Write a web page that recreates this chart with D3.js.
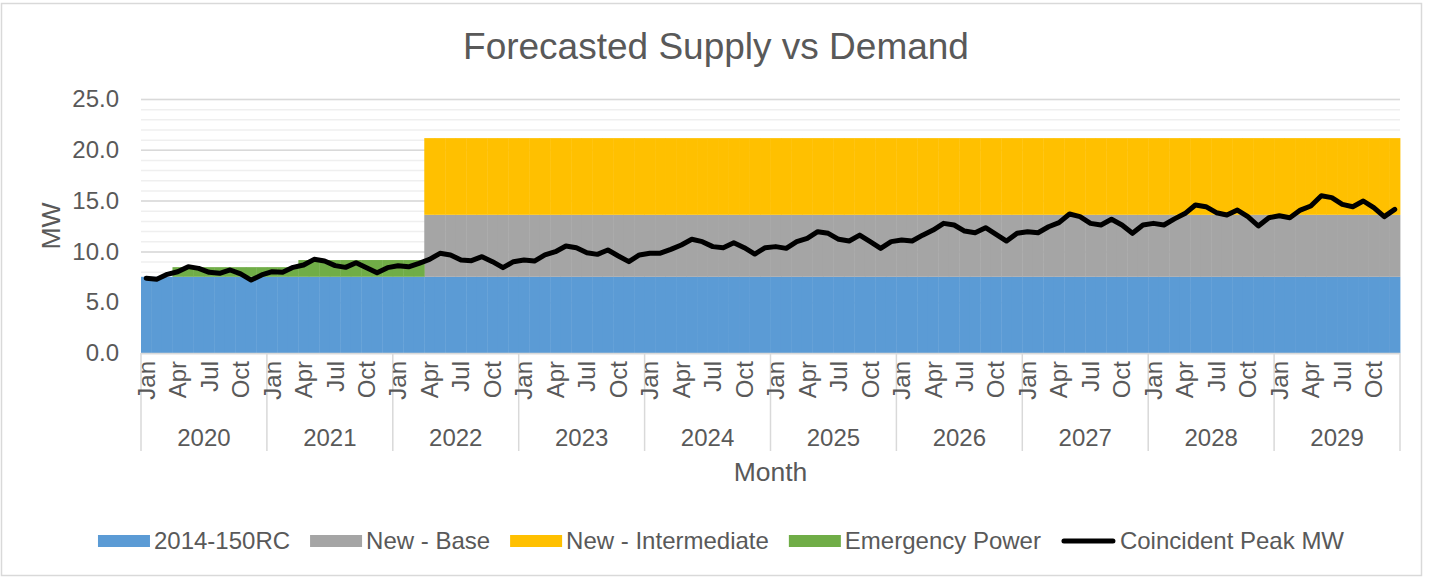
<!DOCTYPE html>
<html>
<head>
<meta charset="utf-8">
<script src="https://cdn.jsdelivr.net/npm/d3@7"></script>
<style>
  body { margin: 0; background: #fff; }
  text { font-family: "Liberation Sans", Arial, sans-serif; fill: #595959; }
</style>
</head>
<body>
<script>
// chart values
var years = ["2020", "2021", "2022", "2023", "2024", "2025", "2026", "2027", "2028", "2029"];
var monthNames = ["Jan", "Feb", "Mar", "Apr", "May", "Jun", "Jul", "Aug", "Sep", "Oct", "Nov", "Dec"];
var shownMonths = ["Jan", "Apr", "Jul", "Oct"];
var yTicks = [0, 5, 10, 15, 20, 25];

// supply, MW per month (2020 Jan .. 2029 Dec)
var base2014 = [
  7.5, 7.5, 7.5, 7.5, 7.5, 7.5, 7.5, 7.5, 7.5, 7.5, 7.5, 7.5,
  7.5, 7.5, 7.5, 7.5, 7.5, 7.5, 7.5, 7.5, 7.5, 7.5, 7.5, 7.5,
  7.5, 7.5, 7.5, 7.5, 7.5, 7.5, 7.5, 7.5, 7.5, 7.5, 7.5, 7.5,
  7.5, 7.5, 7.5, 7.5, 7.5, 7.5, 7.5, 7.5, 7.5, 7.5, 7.5, 7.5,
  7.5, 7.5, 7.5, 7.5, 7.5, 7.5, 7.5, 7.5, 7.5, 7.5, 7.5, 7.5,
  7.5, 7.5, 7.5, 7.5, 7.5, 7.5, 7.5, 7.5, 7.5, 7.5, 7.5, 7.5,
  7.5, 7.5, 7.5, 7.5, 7.5, 7.5, 7.5, 7.5, 7.5, 7.5, 7.5, 7.5,
  7.5, 7.5, 7.5, 7.5, 7.5, 7.5, 7.5, 7.5, 7.5, 7.5, 7.5, 7.5,
  7.5, 7.5, 7.5, 7.5, 7.5, 7.5, 7.5, 7.5, 7.5, 7.5, 7.5, 7.5,
  7.5, 7.5, 7.5, 7.5, 7.5, 7.5, 7.5, 7.5, 7.5, 7.5, 7.5, 7.5
];
var newBase = [
  0, 0, 0, 0, 0, 0, 0, 0, 0, 0, 0, 0,
  0, 0, 0, 0, 0, 0, 0, 0, 0, 0, 0, 0,
  0, 0, 0, 6.1, 6.1, 6.1, 6.1, 6.1, 6.1, 6.1, 6.1, 6.1,
  6.1, 6.1, 6.1, 6.1, 6.1, 6.1, 6.1, 6.1, 6.1, 6.1, 6.1, 6.1,
  6.1, 6.1, 6.1, 6.1, 6.1, 6.1, 6.1, 6.1, 6.1, 6.1, 6.1, 6.1,
  6.1, 6.1, 6.1, 6.1, 6.1, 6.1, 6.1, 6.1, 6.1, 6.1, 6.1, 6.1,
  6.1, 6.1, 6.1, 6.1, 6.1, 6.1, 6.1, 6.1, 6.1, 6.1, 6.1, 6.1,
  6.1, 6.1, 6.1, 6.1, 6.1, 6.1, 6.1, 6.1, 6.1, 6.1, 6.1, 6.1,
  6.1, 6.1, 6.1, 6.1, 6.1, 6.1, 6.1, 6.1, 6.1, 6.1, 6.1, 6.1,
  6.1, 6.1, 6.1, 6.1, 6.1, 6.1, 6.1, 6.1, 6.1, 6.1, 6.1, 6.1
];
var newIntermediate = [
  0, 0, 0, 0, 0, 0, 0, 0, 0, 0, 0, 0,
  0, 0, 0, 0, 0, 0, 0, 0, 0, 0, 0, 0,
  0, 0, 0, 7.55, 7.55, 7.55, 7.55, 7.55, 7.55, 7.55, 7.55, 7.55,
  7.55, 7.55, 7.55, 7.55, 7.55, 7.55, 7.55, 7.55, 7.55, 7.55, 7.55, 7.55,
  7.55, 7.55, 7.55, 7.55, 7.55, 7.55, 7.55, 7.55, 7.55, 7.55, 7.55, 7.55,
  7.55, 7.55, 7.55, 7.55, 7.55, 7.55, 7.55, 7.55, 7.55, 7.55, 7.55, 7.55,
  7.55, 7.55, 7.55, 7.55, 7.55, 7.55, 7.55, 7.55, 7.55, 7.55, 7.55, 7.55,
  7.55, 7.55, 7.55, 7.55, 7.55, 7.55, 7.55, 7.55, 7.55, 7.55, 7.55, 7.55,
  7.55, 7.55, 7.55, 7.55, 7.55, 7.55, 7.55, 7.55, 7.55, 7.55, 7.55, 7.55,
  7.55, 7.55, 7.55, 7.55, 7.55, 7.55, 7.55, 7.55, 7.55, 7.55, 7.55, 7.55
];
var emergency = [
  0, 0, 0, 0.95, 0.95, 0.95, 0.95, 0.95, 0.95, 0.95, 0.95, 0.95,
  0.95, 0.95, 0.95, 1.65, 1.65, 1.65, 1.65, 1.65, 1.65, 1.65, 1.65, 1.65,
  1.65, 1.65, 1.65, 0, 0, 0, 0, 0, 0, 0, 0, 0,
  0, 0, 0, 0, 0, 0, 0, 0, 0, 0, 0, 0,
  0, 0, 0, 0, 0, 0, 0, 0, 0, 0, 0, 0,
  0, 0, 0, 0, 0, 0, 0, 0, 0, 0, 0, 0,
  0, 0, 0, 0, 0, 0, 0, 0, 0, 0, 0, 0,
  0, 0, 0, 0, 0, 0, 0, 0, 0, 0, 0, 0,
  0, 0, 0, 0, 0, 0, 0, 0, 0, 0, 0, 0,
  0, 0, 0, 0, 0, 0, 0, 0, 0, 0, 0, 0
];

// demand
var peakMW = [
  7.35, 7.25, 7.74, 8.0, 8.5, 8.33, 7.94, 7.84, 8.17, 7.78, 7.18, 7.68,
  8.0, 7.94, 8.43, 8.66, 9.22, 9.05, 8.6, 8.43, 8.89, 8.4, 7.9, 8.4,
  8.58, 8.48, 8.83, 9.22, 9.81, 9.65, 9.15, 9.09, 9.48, 8.99, 8.4, 8.99,
  9.15, 9.05, 9.65, 9.97, 10.53, 10.36, 9.87, 9.71, 10.14, 9.55, 8.99, 9.65,
  9.81, 9.83, 10.2, 10.63, 11.19, 10.96, 10.47, 10.37, 10.86, 10.37, 9.74, 10.37,
  10.47, 10.3, 10.96, 11.29, 11.94, 11.78, 11.19, 11.02, 11.6, 10.96, 10.3, 10.96,
  11.12, 11.02, 11.6, 12.1, 12.76, 12.6, 12.0, 11.84, 12.33, 11.68, 11.02, 11.78,
  11.94, 11.84, 12.43, 12.83, 13.68, 13.42, 12.76, 12.6, 13.16, 12.6, 11.78, 12.6,
  12.76, 12.6, 13.2, 13.72, 14.57, 14.4, 13.81, 13.58, 14.07, 13.42, 12.5, 13.32,
  13.51, 13.32, 14.07, 14.47, 15.48, 15.29, 14.63, 14.4, 14.96, 14.3, 13.42, 14.14
];

var seriesNames = ["2014-150RC", "New - Base", "New - Intermediate", "Emergency Power"];
var seriesColors = ["#5b9bd5", "#a5a5a5", "#ffc000", "#70ad47"];
var lineName = "Coincident Peak MW";

// layout
var w = 1429;
var h = 578;
var plotLeft = 141;
var plotRight = 1400;
var plotTop = 99;
var plotBottom = 353;

// build the month table
var months = [];
years.forEach(function(y) {
  monthNames.forEach(function(m) {
    months.push({ year: y, month: m, key: y + "-" + m });
  });
});
var table = months.map(function(d, i) {
  var row = { key: d.key };
  row[seriesNames[0]] = base2014[i];
  row[seriesNames[1]] = newBase[i];
  row[seriesNames[2]] = newIntermediate[i];
  row[seriesNames[3]] = emergency[i];
  row.peak = peakMW[i];
  return row;
});

var xScale = d3.scaleBand()
               .domain(months.map(function(d) { return d.key; }))
               .range([plotLeft, plotRight])
               .padding(0);

var yScale = d3.scaleLinear()
               .domain([0, 25])
               .range([plotBottom, plotTop]);

var svg = d3.select("body")
            .append("svg")
            .attr("width", w)
            .attr("height", h);

// outer chart border
svg.append("rect")
   .attr("x", 1.5).attr("y", 3.5)
   .attr("width", 1420).attr("height", 572)
   .attr("fill", "#fff")
   .attr("stroke", "#d9d9d9")
   .attr("stroke-width", 1.5);

// minor gridlines
svg.append("g")
   .attr("transform", "translate(" + plotLeft + ",0)")
   .call(d3.axisLeft(yScale).tickValues(d3.range(0, 26, 1)).tickSize(-(plotRight - plotLeft)).tickFormat(""))
   .call(function(g) {
     g.select(".domain").remove();
     g.selectAll("line").attr("stroke", "#efefef").attr("stroke-width", 1.5);
   });

// major gridlines + tick labels
svg.append("g")
   .attr("transform", "translate(" + plotLeft + ",0)")
   .call(d3.axisLeft(yScale).tickValues(yTicks).tickSize(-(plotRight - plotLeft)).tickPadding(22).tickFormat(d3.format(".1f")))
   .call(function(g) {
     g.select(".domain").remove();
     g.selectAll("line").attr("stroke", "#d9d9d9").attr("stroke-width", 1.5);
     g.selectAll("text").attr("font-size", "24px").attr("fill", "#595959")
      .style("font-family", "'Liberation Sans', Arial, sans-serif");
   });

// stacked columns
var stack = d3.stack().keys(seriesNames);
var layers = stack(table);

svg.append("g")
   .selectAll("g")
   .data(layers)
   .enter()
   .append("g")
   .attr("fill", function(d, i) { return seriesColors[i]; })
   .selectAll("rect")
   .data(function(d) { return d.filter(function(p) { return p[1] > p[0]; }); })
   .enter()
   .append("rect")
   .attr("x", function(d) { return xScale(d.data.key); })
   .attr("width", xScale.bandwidth() + 0.4)
   .attr("y", function(d) { return yScale(d[1]); })
   .attr("height", function(d) { return yScale(d[0]) - yScale(d[1]); });

// x axis line
svg.append("line")
   .attr("x1", plotLeft).attr("x2", plotRight)
   .attr("y1", plotBottom + 0.5).attr("y2", plotBottom + 0.5)
   .attr("stroke", "#d9d9d9").attr("stroke-width", 1.5);

// year separators
var bounds = years.map(function(y) { return xScale(y + "-Jan"); }).concat([plotRight]);
svg.append("g")
   .selectAll("line")
   .data(bounds)
   .enter()
   .append("line")
   .attr("x1", function(d) { return d; })
   .attr("x2", function(d) { return d; })
   .attr("y1", plotBottom)
   .attr("y2", 451)
   .attr("stroke", "#d9d9d9")
   .attr("stroke-width", 1.5);

// month labels
svg.append("g")
   .selectAll("text")
   .data(months.filter(function(d) { return shownMonths.indexOf(d.month) >= 0; }))
   .enter()
   .append("text")
   .attr("transform", function(d) {
     return "translate(" + (xScale(d.key) + xScale.bandwidth() / 2) + "," + (plotBottom + 8) + ") rotate(-90)";
   })
   .attr("dy", "0.35em")
   .attr("text-anchor", "end")
   .attr("font-size", "24px")
   .text(function(d) { return d.month; });

// year labels
svg.append("g")
   .selectAll("text")
   .data(years)
   .enter()
   .append("text")
   .attr("x", function(d, i) { return (bounds[i] + bounds[i + 1]) / 2; })
   .attr("y", 446)
   .attr("text-anchor", "middle")
   .attr("font-size", "24px")
   .text(function(d) { return d; });

// demand line
var line = d3.line()
             .x(function(d) { return xScale(d.key) + xScale.bandwidth() / 2; })
             .y(function(d) { return yScale(d.peak); });

svg.append("path")
   .datum(table)
   .attr("d", line)
   .attr("fill", "none")
   .attr("stroke", "#000")
   .attr("stroke-width", 5)
   .attr("stroke-linejoin", "round")
   .attr("stroke-linecap", "round");

// titles
svg.append("text")
   .attr("x", 716).attr("y", 59)
   .attr("text-anchor", "middle")
   .attr("font-size", "37px")
   .text("Forecasted Supply vs Demand");

svg.append("text")
   .attr("x", (plotLeft + plotRight) / 2).attr("y", 481)
   .attr("text-anchor", "middle")
   .attr("font-size", "26.5px")
   .text("Month");

svg.append("text")
   .attr("transform", "translate(60," + ((plotTop + plotBottom) / 2) + ") rotate(-90)")
   .attr("text-anchor", "middle")
   .attr("font-size", "26.5px")
   .text("MW");

// legend
var legendItems = seriesNames.map(function(n, i) { return { name: n, color: seriesColors[i], type: "box" }; })
                             .concat([{ name: lineName, color: "#000", type: "line" }]);
var legend = svg.append("g");
var cursor = 0;
legendItems.forEach(function(item) {
  var g = legend.append("g").attr("transform", "translate(" + cursor + ",0)");
  var sw = item.type == "box" ? 52 : 55;
  if (item.type == "box") {
    g.append("rect").attr("x", 0).attr("y", -6).attr("width", sw).attr("height", 12).attr("fill", item.color);
  } else {
    g.append("line").attr("x1", 3).attr("x2", sw - 3).attr("y1", 0).attr("y2", 0)
     .attr("stroke", item.color).attr("stroke-width", 5).attr("stroke-linecap", "round");
  }
  var t = g.append("text").attr("x", sw + 4).attr("y", 0).attr("dy", "0.35em")
           .attr("font-size", "24px").text(item.name);
  cursor += sw + 4 + t.node().getComputedTextLength() + 20;
});
cursor -= 20;
legend.attr("transform", "translate(" + (721 - cursor / 2) + ",541)");
</script>
</body>
</html>
